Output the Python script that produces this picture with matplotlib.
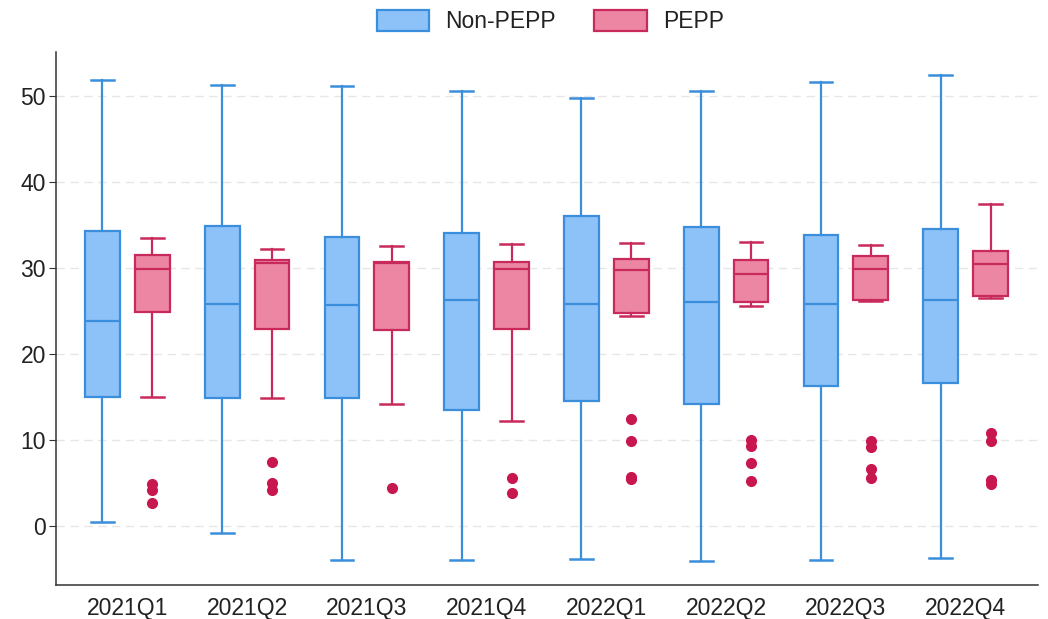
import matplotlib
matplotlib.use("Agg")
import matplotlib.pyplot as plt
from matplotlib.patches import Patch
import numpy as np

plt.rcParams['font.family'] = ['Liberation Sans', 'DejaVu Sans']

quarters = ['2021Q1', '2021Q2', '2021Q3', '2021Q4', '2022Q1', '2022Q2', '2022Q3', '2022Q4']

# Non-PEPP box stats (low whisker, q1, median, q3, high whisker)
non_lo = [0.4, -0.8, -4.0, -4.0, -3.9, -4.1, -4.0, -3.8]
non_q1 = [15.0, 14.9, 14.9, 13.5, 14.5, 14.2, 16.2, 16.6]
non_med = [23.8, 25.8, 25.7, 26.2, 25.8, 26.0, 25.8, 26.2]
non_q3 = [34.3, 34.9, 33.6, 34.1, 36.0, 34.7, 33.8, 34.5]
non_hi = [51.8, 51.3, 51.1, 50.6, 49.8, 50.6, 51.6, 52.4]

# PEPP box stats
pepp_lo = [15.0, 14.9, 14.2, 12.2, 24.4, 25.5, 26.1, 26.5]
pepp_q1 = [24.8, 22.9, 22.8, 22.9, 24.7, 26.0, 26.2, 26.7]
pepp_med = [29.8, 30.5, 30.6, 29.9, 29.7, 29.3, 29.8, 30.4]
pepp_q3 = [31.5, 30.9, 30.7, 30.7, 31.0, 30.9, 31.4, 31.9]
pepp_hi = [33.5, 32.2, 32.5, 32.8, 32.9, 33.0, 32.6, 37.4]
pepp_out = [
    [4.8, 4.2, 2.6],
    [7.4, 5.0, 4.2],
    [4.4],
    [5.5, 3.8],
    [12.4, 9.9, 5.7, 5.4],
    [10.0, 9.3, 7.3, 5.2],
    [9.8, 9.2, 6.6, 5.5],
    [10.8, 9.9, 5.3, 4.8],
]

blue_fill = '#8DC2F8'
blue_edge = '#3A8EDB'
pink_fill = '#EC86A3'
pink_edge = '#C92A5C'
dot_col = '#C8174F'

def make_stats(lo, q1, med, q3, hi, out=None):
    stats = []
    for i in range(len(lo)):
        stats.append({'whislo': lo[i], 'q1': q1[i], 'med': med[i], 'q3': q3[i],
                      'whishi': hi[i], 'fliers': out[i] if out else []})
    return stats

fig, ax = plt.subplots(figsize=(10.48, 6.19), dpi=100)
fig.subplots_adjust(left=0.053, right=0.99, top=0.916, bottom=0.055)

pos = np.arange(len(quarters))
off = 0.208
w = 0.29

ax.bxp(make_stats(non_lo, non_q1, non_med, non_q3, non_hi), positions=pos - off,
       widths=w, capwidths=0.19, patch_artist=True, showfliers=False,
       boxprops=dict(facecolor=blue_fill, edgecolor=blue_edge, linewidth=1.6),
       medianprops=dict(color=blue_edge, linewidth=1.6),
       whiskerprops=dict(color=blue_edge, linewidth=1.6),
       capprops=dict(color=blue_edge, linewidth=1.8), zorder=3)

ax.bxp(make_stats(pepp_lo, pepp_q1, pepp_med, pepp_q3, pepp_hi, pepp_out), positions=pos + off,
       widths=w, capwidths=0.19, patch_artist=True, showfliers=True,
       boxprops=dict(facecolor=pink_fill, edgecolor=pink_edge, linewidth=1.6),
       medianprops=dict(color=pink_edge, linewidth=1.6),
       whiskerprops=dict(color=pink_edge, linewidth=1.6),
       capprops=dict(color=pink_edge, linewidth=1.8),
       flierprops=dict(marker='o', markerfacecolor=dot_col, markeredgecolor=dot_col, markersize=7),
       zorder=3)

ax.set_xlim(-0.6, 7.6)
ax.set_ylim(-6.9, 55.1)
ax.set_xticks(pos)
ax.set_xticklabels(quarters)
ax.set_yticks([0, 10, 20, 30, 40, 50])
ax.tick_params(axis='x', length=0, labelsize=16.5, pad=9, labelcolor='#222222')
ax.tick_params(axis='y', length=5, labelsize=16.5, pad=2, labelcolor='#222222', color='#333333')
ax.yaxis.grid(True, color='#E6E6E6', linestyle=(0, (6, 4)), linewidth=1.0)
ax.set_axisbelow(True)
ax.spines['top'].set_visible(False)
ax.spines['right'].set_visible(False)
for s in ['left', 'bottom']:
    ax.spines[s].set_color('#333333')
    ax.spines[s].set_linewidth(1.1)

handles = [Patch(facecolor=blue_fill, edgecolor=blue_edge, linewidth=1.6, label='Non-PEPP'),
           Patch(facecolor=pink_fill, edgecolor=pink_edge, linewidth=1.6, label='PEPP')]
leg = fig.legend(handles=handles, loc='center', bbox_to_anchor=(0.525, 0.965), ncol=2,
                 frameon=False, fontsize=16.5, handlelength=2.3, handleheight=1.0,
                 handletextpad=0.7, columnspacing=1.65)
for t in leg.get_texts():
    t.set_color('#222222')

fig.savefig('out.png', dpi=100)
